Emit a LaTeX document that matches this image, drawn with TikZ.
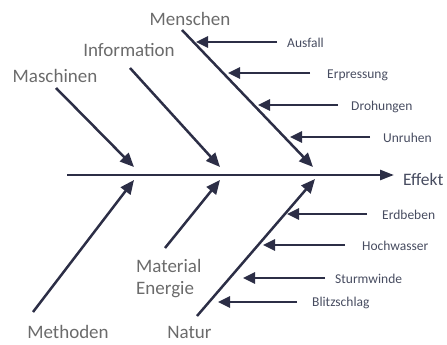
\documentclass[tikz,border=0pt]{standalone}
\usepackage{fontspec}
\setmainfont{Carlito}
\usetikzlibrary{arrows.meta}
\definecolor{bone}{HTML}{2C2E46}
\definecolor{biglab}{HTML}{6B6B6B}
\definecolor{smalllab}{HTML}{474C60}
\tikzset{
  bonearrow/.style={draw=bone,line width=2.5pt,-{Triangle[length=14pt,width=12pt]}},
  subarrow/.style={draw=bone,line width=2.5pt,-{Triangle[length=12pt,width=11pt]}},
  spinearrow/.style={draw=bone,line width=2.7pt,-{Triangle[length=14pt,width=10pt]}},
  biglabel/.style={text=biglab,font=\fontsize{19}{21}\selectfont,inner sep=0pt,anchor=base},
  smalllabel/.style={text=smalllab,font=\fontsize{13.5}{15}\selectfont,inner sep=0pt,anchor=west},
  efflabel/.style={text=smalllab,font=\fontsize{17.5}{19}\selectfont,inner sep=0pt,anchor=base west}
}
\begin{document}
\begin{tikzpicture}[x=1pt,y=-1pt]
\useasboundingbox (0,0) rectangle (447,345);
% spine
\coordinate (s0) at (67,175);
\coordinate (s1) at (394,175);
\node[efflabel] (effekt) at (403,185) {Effekt};
\draw[spinearrow] (s0) -- (s1);
% upper bones
\node[biglabel] (maschinen) at (55,82) {Maschinen};
\node[biglabel] (information) at (129,57) {Information};
\node[biglabel] (menschen) at (190,26) {Menschen};
\coordinate (m0) at (56,88);   \coordinate (m1) at (134,167);
\coordinate (i0) at (130,68);  \coordinate (i1) at (220,167);
\coordinate (h0) at (182,30);  \coordinate (h1) at (313,167);
\draw[bonearrow] (m0) -- (m1);
\draw[bonearrow] (i0) -- (i1);
\draw[bonearrow] (h0) -- (h1);
% lower bones
\node[biglabel] (methoden) at (68,338) {Methoden};
\node[biglabel] (natur) at (189.5,338) {Natur};
\node[biglabel,anchor=base west] (material) at (136,272) {Material};
\node[biglabel,anchor=base west] (energie) at (136,294) {Energie};
\coordinate (d0) at (33,312);  \coordinate (d1) at (134,180);
\coordinate (e0) at (165,248); \coordinate (e1) at (220,180);
\coordinate (n0) at (197,316); \coordinate (n1) at (315,179);
\draw[bonearrow] (d0) -- (d1);
\draw[bonearrow] (e0) -- (e1);
\draw[bonearrow] (n0) -- (n1);
% Menschen causes
\node[smalllabel] (ausfall) at (287,43) {Ausfall};
\node[smalllabel] (erpressung) at (327,75) {Erpressung};
\node[smalllabel] (drohungen) at (351,107) {Drohungen};
\node[smalllabel] (unruhen) at (383,138) {Unruhen};
\coordinate (a1) at (196,42);
\coordinate (a2) at (228,73);
\coordinate (a3) at (258,105);
\coordinate (a4) at (290,137);
\draw[subarrow] ([xshift=-10pt]ausfall.west |- a1) -- (a1);
\draw[subarrow] ([xshift=-17pt]erpressung.west |- a2) -- (a2);
\draw[subarrow] ([xshift=-13pt]drohungen.west |- a3) -- (a3);
\draw[subarrow] ([xshift=-13pt]unruhen.west |- a4) -- (a4);
% Natur causes
\node[smalllabel] (erdbeben) at (382,215) {Erdbeben};
\node[smalllabel] (hochwasser) at (362,246) {Hochwasser};
\node[smalllabel] (sturmwinde) at (335,279) {Sturmwinde};
\node[smalllabel] (blitzschlag) at (312,303) {Blitzschlag};
\coordinate (b1) at (287,214);
\coordinate (b2) at (263,245);
\coordinate (b3) at (243,278);
\coordinate (b4) at (218,302);
\draw[subarrow] ([xshift=-15pt]erdbeben.west |- b1) -- (b1);
\draw[subarrow] ([xshift=-17pt]hochwasser.west |- b2) -- (b2);
\draw[subarrow] ([xshift=-10pt]sturmwinde.west |- b3) -- (b3);
\draw[subarrow] ([xshift=-15pt]blitzschlag.west |- b4) -- (b4);
\end{tikzpicture}
\end{document}
